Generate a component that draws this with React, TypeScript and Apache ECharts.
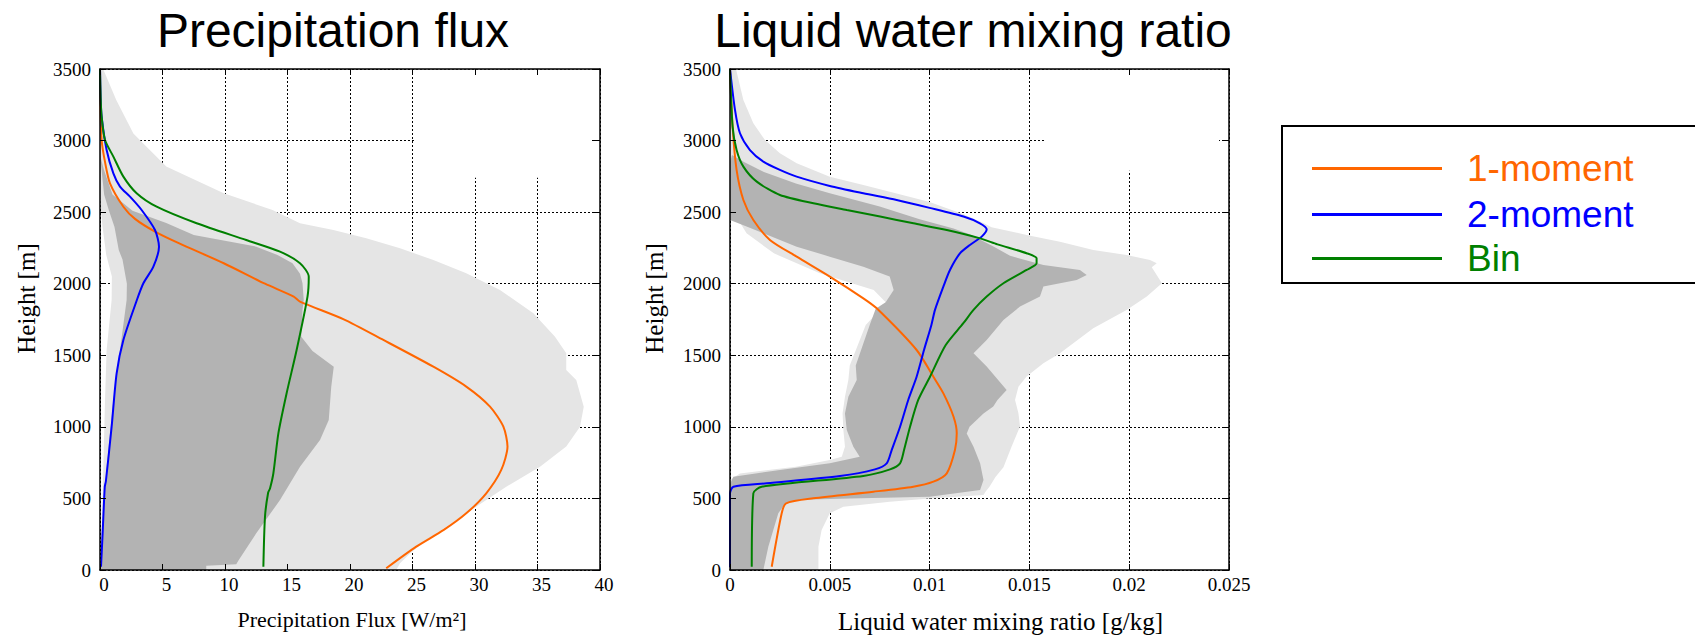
import { useEffect, useRef } from 'react';
import * as echarts from 'echarts';

type Pt = [number, number]; // [value, height in m]

// ---------- axes / ticks ----------
const heightTicks = [0, 500, 1000, 1500, 2000, 2500, 3000, 3500];
const fluxTicks = [0, 5, 10, 15, 20, 25, 30, 35, 40];
const lwcTicks = [0, 0.005, 0.01, 0.015, 0.02, 0.025];

const seriesNames = ['1-moment', '2-moment', 'Bin'];
const seriesColors = ['#ff6600', '#0000ff', '#008000'];

// ---------- Precipitation flux [W/m2] vs height ----------
const fluxOneMoment: Pt[] = [
  [0, 3500], [0.02, 3300], [0.13, 3004], [0.4, 2851], [0.8, 2701], [1.87, 2538], [2.8, 2453],
  [4.4, 2364], [6.3, 2283], [9.9, 2143], [13.2, 2000], [15.5, 1910], [16.0, 1875], [19.5, 1751],
  [22.67, 1607], [26.67, 1420], [29.3, 1281], [31.2, 1141], [32.27, 1001], [32.6, 862], [32.1, 699],
  [30.9, 536], [29.3, 396], [27.5, 280], [25.3, 163], [22.9, 12],
];
const fluxTwoMoment: Pt[] = [
  [0, 3500], [0.05, 3300], [0.13, 3167], [0.53, 2934], [1.07, 2771], [1.6, 2678], [2.4, 2608],
  [3.33, 2515], [4.4, 2375], [4.72, 2259], [4.27, 2119], [3.47, 2003], [2.95, 1886], [1.87, 1607],
  [1.33, 1374], [0.93, 1001], [0.47, 620], [0.38, 580], [0.21, 256], [0.08, 23],
];
const fluxBin: Pt[] = [
  [0, 3500], [0.05, 3300], [0.13, 3167], [0.4, 3004], [1.07, 2888], [1.87, 2748], [2.93, 2632],
  [4.53, 2538], [7.73, 2422], [11.7, 2305], [14.4, 2224], [16.0, 2143], [16.7, 2049], [16.6, 1910],
  [15.73, 1537], [14.93, 1235], [14.27, 955], [13.87, 676], [13.6, 570], [13.45, 540], [13.2, 373],
  [13.07, 23],
];
const fluxLightUpper: Pt[] = [
  [0.25, 3500], [1.3, 3283], [2.67, 3050], [5.3, 2818], [9.9, 2632], [13.8, 2515], [16, 2422],
  [18.67, 2375], [21.3, 2317], [24, 2247], [26.67, 2166], [29.3, 2073], [32, 1956], [34.67, 1793],
  [36.4, 1630], [37.3, 1514], [37.3, 1397], [38.1, 1327], [38.7, 1141], [38.4, 1001], [37.3, 862],
  [35.2, 722], [32.5, 582], [30.9, 489], [29.3, 396], [27.7, 303], [26.1, 210], [24.8, 116],
  [24, 47], [23.7, 0],
];
const fluxLightLower: Pt[] = [
  [0, 3500], [0, 2600], [0.2, 2400], [0.5, 2200], [0.95, 2050], [0.93, 1886], [0.53, 1537],
  [0.4, 1188], [0.27, 722], [0.05, 0],
];
const fluxDarkUpper: Pt[] = [
  [0, 2900], [0.3, 2800], [1.0, 2624], [2.6, 2510], [5.3, 2425], [7.5, 2340], [12.5, 2259],
  [14.2, 2200], [15.4, 2143], [16.0, 2070], [16.2, 2003], [16.3, 1886], [16.2, 1816], [16.1, 1630],
  [17.0, 1530], [18.7, 1420], [18.5, 1281], [18.3, 1048], [17.6, 908], [16.0, 722], [14.4, 489],
  [12.5, 256], [11.1, 70], [10.9, 40], [8.5, 30], [8.5, 0],
];
const fluxDarkLower: Pt[] = [
  [0, 2900], [0.33, 2624], [0.7, 2515], [1.16, 2397], [1.5, 2236], [1.8, 2169], [2.15, 2000],
  [2.13, 1886], [1.6, 1537], [1.07, 1188], [0.53, 722], [0.13, 256], [0.05, 0],
];
// region of the original where the grid is blanked out (upper right)
const fluxBlankBox: Pt[] = [[25.15, 2740], [39.3, 3495]];

// ---------- Liquid water mixing ratio [g/kg] vs height ----------
const lwcOneMoment: Pt[] = [
  [0, 3500], [0.00013, 3097], [0.00033, 2795], [0.00067, 2585], [0.00117, 2445], [0.002, 2306],
  [0.00334, 2189], [0.005, 2050], [0.00668, 1898], [0.00735, 1828], [0.00935, 1537], [0.01019, 1350],
  [0.01069, 1234], [0.0112, 1071], [0.01136, 955], [0.01127, 838], [0.01086, 675], [0.01019, 617],
  [0.00918, 582], [0.00718, 547], [0.00417, 501], [0.00281, 466], [0.00259, 396], [0.00209, 23],
];
const lwcTwoMoment: Pt[] = [
  [0, 3500], [0.00025, 3214], [0.0005, 3051], [0.001, 2934], [0.00167, 2853], [0.0025, 2795],
  [0.00334, 2748], [0.005, 2683], [0.00668, 2632], [0.00835, 2585], [0.01, 2530], [0.0117, 2469],
  [0.01252, 2422], [0.01286, 2380], [0.01261, 2329], [0.01202, 2271], [0.01152, 2212], [0.01102, 2096],
  [0.01069, 1980], [0.01027, 1817], [0.01009, 1712], [0.00972, 1537], [0.00935, 1350], [0.00893, 1188],
  [0.00852, 1001], [0.0081, 838], [0.00785, 745], [0.00726, 703], [0.00551, 657], [0.00184, 606],
  [0.00017, 582], [0, 536], [0, 20],
];
const lwcBin: Pt[] = [
  [0, 3500], [0.00013, 3097], [0.00033, 2934], [0.00067, 2818], [0.00134, 2713], [0.0025, 2620],
  [0.00418, 2562], [0.00585, 2515], [0.00752, 2469], [0.00919, 2422], [0.01086, 2375], [0.01253, 2317],
  [0.0134, 2275], [0.01486, 2213], [0.01536, 2178], [0.01536, 2143], [0.01486, 2096], [0.0137, 2003],
  [0.01286, 1910], [0.0122, 1817], [0.01169, 1724], [0.0108, 1570], [0.01002, 1350], [0.00943, 1188],
  [0.00902, 1001], [0.00872, 838], [0.00852, 745], [0.00802, 703], [0.00668, 657], [0.00159, 582],
  [0.00117, 536], [0.00109, 23],
];
const lwcLightUpper: Pt[] = [
  [0.0003, 3500], [0.00067, 3284], [0.00117, 3121], [0.00175, 3004], [0.0025, 2911], [0.00334, 2841],
  [0.005, 2748], [0.00668, 2690], [0.00835, 2630], [0.01, 2570], [0.0117, 2485], [0.0127, 2425],
  [0.0131, 2395], [0.01486, 2341], [0.01653, 2294], [0.0182, 2236], [0.01987, 2201], [0.02104, 2166],
  [0.02138, 2143], [0.02113, 2115], [0.02164, 2003], [0.02088, 1910], [0.01987, 1817], [0.0182, 1689],
  [0.01653, 1514], [0.0157, 1444], [0.01486, 1351], [0.01445, 1281], [0.01428, 1188], [0.01445, 1095],
  [0.01453, 1002], [0.0141, 860], [0.0137, 718], [0.0133, 650], [0.013, 582], [0.0128, 547],
  [0.0127, 524], [0.01, 500], [0.008, 477], [0.00568, 442], [0.005, 396], [0.00459, 279],
  [0.00443, 163], [0.00443, 0],
];
const lwcLightLower: Pt[] = [
  [0, 3500], [0, 2540], [0.00083, 2352], [0.0022, 2212], [0.0045, 2073], [0.0072, 1956], [0.0078, 1870],
  [0.0075, 1817], [0.0068, 1712], [0.0064, 1570], [0.006, 1428], [0.00593, 1327], [0.00576, 1211],
  [0.00564, 1094], [0.00568, 978], [0.00576, 861], [0.0056, 791], [0.005, 768], [0.0033, 722],
  [0.0005, 675], [0, 628], [0, 0],
];
const lwcDarkUpper: Pt[] = [
  [0.0001, 2900], [0.0007, 2850], [0.0017, 2780], [0.0033, 2700], [0.005, 2632], [0.0075, 2540],
  [0.0095, 2450], [0.0112, 2385], [0.012, 2345], [0.0132, 2260], [0.01403, 2195], [0.0157, 2131],
  [0.01753, 2096], [0.01787, 2061], [0.01737, 2026], [0.0157, 1980], [0.01553, 1910], [0.01453, 1840],
  [0.0137, 1747], [0.01286, 1607], [0.0122, 1514], [0.01286, 1421], [0.01386, 1258], [0.0134, 1187],
  [0.01319, 1142], [0.0127, 1094], [0.012, 1001], [0.01186, 954], [0.0122, 861], [0.01253, 745],
  [0.0127, 628], [0.01253, 559], [0.01, 512], [0.006, 500], [0.0035, 490], [0.0028, 470],
  [0.00242, 396], [0.00217, 279], [0.00192, 163], [0.00167, 0],
];
const lwcDarkLower: Pt[] = [
  [0.0001, 2900], [0, 2850], [0, 2445], [0.00083, 2399], [0.00167, 2352], [0.00334, 2259],
  [0.005, 2189], [0.00668, 2119], [0.008, 2050], [0.0082, 1956], [0.0078, 1870], [0.0073, 1825],
  [0.007, 1712], [0.00665, 1570], [0.0063, 1428], [0.00635, 1327], [0.00593, 1211], [0.00576, 1094],
  [0.00585, 978], [0.00618, 861], [0.0065, 791], [0.005, 745], [0.0025, 698], [0.00017, 652],
  [0, 600], [0, 0],
];
const lwcBlankBox: Pt[] = [[0.0158, 2790], [0.0245, 3495]];

// ---------- styling ----------
const SERIF = "'Liberation Serif', 'Times New Roman', serif";
const SANS = "'Liberation Sans', Arial, sans-serif";
const LIGHT = '#e5e5e5';
const DARK = '#b3b3b3';

const GRIDS = [
  { left: 100, top: 69, width: 500, height: 501, containLabel: false, outerBoundsMode: 'none' },
  { left: 730, top: 69, width: 499, height: 501, containLabel: false, outerBoundsMode: 'none' },
];

function polygonOf(upper: Pt[], lower: Pt[]): Pt[] {
  return [...upper, ...lower.slice().reverse()];
}

function bandSeries(pts: Pt[], color: string, gi: number) {
  return {
    type: 'custom',
    name: 'band',
    xAxisIndex: gi * 3,
    yAxisIndex: gi * 3,
    silent: true,
    z: 1,
    data: [[0, 0]],
    renderItem: (_p: any, api: any) => ({
      type: 'polygon',
      shape: { points: pts.map((p) => api.coord(p)) },
      style: { fill: color },
    }),
  };
}

function blankSeries(box: Pt[], gi: number) {
  return {
    type: 'custom',
    name: 'blank',
    xAxisIndex: gi * 3,
    yAxisIndex: gi * 3,
    silent: true,
    z: 1,
    data: [[0, 0]],
    renderItem: (_p: any, api: any) => {
      const a = api.coord([box[0][0], box[1][1]]);
      const b = api.coord([box[1][0], box[0][1]]);
      return {
        type: 'rect',
        shape: { x: a[0], y: a[1], width: b[0] - a[0], height: b[1] - a[1] },
        style: { fill: '#ffffff' },
      };
    },
  };
}

function lineSeries(name: string, color: string, pts: Pt[], gi: number) {
  return {
    type: 'line',
    name,
    xAxisIndex: gi * 3,
    yAxisIndex: gi * 3,
    data: pts,
    showSymbol: false,
    symbol: 'none',
    smooth: 0.25,
    z: 3,
    lineStyle: { color, width: 2 },
    itemStyle: { color },
  };
}

function frameAxis(gi: number, position: string, ticks: number[]) {
  return {
    gridIndex: gi,
    type: 'value',
    position,
    min: ticks[0],
    max: ticks[ticks.length - 1],
    interval: ticks[1] - ticks[0],
    z: 5,
    axisLine: { show: true, onZero: false, lineStyle: { color: '#000', width: 1.5 } },
    axisTick: { show: true, inside: true, length: 6, lineStyle: { color: '#000', width: 1 } },
    axisLabel: { show: false },
    splitLine: { show: false },
  };
}

function mainAxis(gi: number, position: string, ticks: number[], extra: any) {
  return {
    gridIndex: gi,
    type: 'value',
    position,
    min: ticks[0],
    max: ticks[ticks.length - 1],
    interval: ticks[1] - ticks[0],
    z: 0,
    axisLine: { show: false, onZero: false },
    axisTick: { show: false },
    splitLine: { show: true, lineStyle: { color: '#000', width: 1, type: [2, 2] } },
    ...extra,
  };
}

const tickLabelStyle = { color: '#000', fontFamily: SERIF, fontSize: 19 };
const plainNumber = (v: number) => String(Number(v.toFixed(4)));

function buildOption() {
  const xAxis: any[] = [];
  const yAxis: any[] = [];

  // grid 0 : precipitation flux
  xAxis.push(
    mainAxis(0, 'bottom', fluxTicks, {
      axisLabel: { ...tickLabelStyle, margin: 5, padding: [0, 0, 0, 8], formatter: plainNumber },
      name: 'Precipitation Flux [W/m²]',
      nameLocation: 'middle',
      nameGap: 38,
      nameTextStyle: { color: '#000', fontFamily: SERIF, fontSize: 22, padding: [0, 0, 0, 4] },
    }),
    frameAxis(0, 'bottom', fluxTicks),
    frameAxis(0, 'top', fluxTicks),
  );
  yAxis.push(
    mainAxis(0, 'left', heightTicks, {
      axisLabel: { ...tickLabelStyle, margin: 9, formatter: plainNumber },
      name: 'Height [m]',
      nameLocation: 'middle',
      nameGap: 61,
      nameTextStyle: { color: '#000', fontFamily: SERIF, fontSize: 25, padding: [0, 0, 0, 42] },
    }),
    frameAxis(0, 'left', heightTicks),
    frameAxis(0, 'right', heightTicks),
  );

  // grid 1 : liquid water mixing ratio
  xAxis.push(
    mainAxis(1, 'bottom', lwcTicks, {
      axisLabel: { ...tickLabelStyle, margin: 5, formatter: plainNumber },
      name: 'Liquid water mixing ratio [g/kg]',
      nameLocation: 'middle',
      nameGap: 39,
      nameTextStyle: { color: '#000', fontFamily: SERIF, fontSize: 25, padding: [0, 0, 0, 42] },
    }),
    frameAxis(1, 'bottom', lwcTicks),
    frameAxis(1, 'top', lwcTicks),
  );
  yAxis.push(
    mainAxis(1, 'left', heightTicks, {
      axisLabel: { ...tickLabelStyle, margin: 9, formatter: plainNumber },
      name: 'Height [m]',
      nameLocation: 'middle',
      nameGap: 63,
      nameTextStyle: { color: '#000', fontFamily: SERIF, fontSize: 25, padding: [0, 0, 0, 42] },
    }),
    frameAxis(1, 'left', heightTicks),
    frameAxis(1, 'right', heightTicks),
  );

  const fluxLines = [fluxOneMoment, fluxTwoMoment, fluxBin];
  const lwcLines = [lwcOneMoment, lwcTwoMoment, lwcBin];

  const series: any[] = [
    bandSeries(polygonOf(fluxLightUpper, fluxLightLower), LIGHT, 0),
    bandSeries(polygonOf(fluxDarkUpper, fluxDarkLower), DARK, 0),
    blankSeries(fluxBlankBox, 0),
    bandSeries(polygonOf(lwcLightUpper, lwcLightLower), LIGHT, 1),
    bandSeries(polygonOf(lwcDarkUpper, lwcDarkLower), DARK, 1),
    blankSeries(lwcBlankBox, 1),
    ...seriesNames.map((n, i) => lineSeries(n, seriesColors[i], fluxLines[i], 0)),
    ...seriesNames.map((n, i) => lineSeries(n, seriesColors[i], lwcLines[i], 1)),
  ];

  const legendRowTops = [150, 196, 240];

  return {
    animation: false,
    backgroundColor: '#ffffff',
    title: [
      {
        text: 'Precipitation flux',
        left: 333,
        top: 6,
        textAlign: 'center',
        padding: 0,
        textStyle: { fontFamily: SANS, fontSize: 48, fontWeight: 'normal', color: '#000' },
      },
      {
        text: 'Liquid water mixing ratio',
        left: 973,
        top: 6,
        textAlign: 'center',
        padding: 0,
        textStyle: { fontFamily: SANS, fontSize: 48, fontWeight: 'normal', color: '#000' },
      },
    ],
    legend: seriesNames.map((n, i) => ({
      data: [{ name: n, textStyle: { color: seriesColors[i] } }],
      left: 1312,
      top: legendRowTops[i],
      orient: 'vertical',
      icon: 'rect',
      itemWidth: 130,
      itemHeight: 3,
      padding: 0,
      selectedMode: false,
      textStyle: { fontFamily: SANS, fontSize: 37, padding: [0, 0, 0, 20] },
    })),
    graphic: [
      {
        type: 'rect',
        shape: { x: 1282, y: 126, width: 600, height: 157 },
        style: { fill: 'none', stroke: '#000', lineWidth: 2 },
        silent: true,
      },
    ],
    grid: GRIDS,
    xAxis,
    yAxis,
    series,
  };
}

export default function App() {
  const ref = useRef<HTMLDivElement>(null);
  useEffect(() => {
    if (!ref.current) return;
    const chart = echarts.init(ref.current, undefined, { renderer: 'svg' });
    chart.setOption(buildOption() as any);
    return () => chart.dispose();
  }, []);
  return (
    <div
      ref={ref}
      style={{ position: 'fixed', left: 0, top: 0, width: 1695, height: 637, background: '#fff' }}
    />
  );
}
